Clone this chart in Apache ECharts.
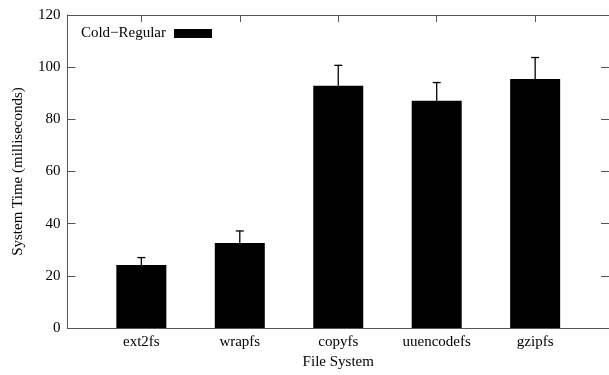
<!DOCTYPE html>
<html><head><meta charset="utf-8">
<script src="https://cdn.jsdelivr.net/npm/echarts@6/dist/echarts.min.js"></script>
<style>html,body{margin:0;padding:0;background:#fff}#c{width:609px;height:375px}</style>
</head><body><div id="c"></div>
<script>
const categories = ["ext2fs", "wrapfs", "copyfs", "uuencodefs", "gzipfs"];
const values = [24.2, 32.6, 92.9, 87.1, 95.5];
const errorTop = [27.0, 37.2, 100.7, 94.1, 103.7];
const yTicks = [0, 20, 40, 60, 80, 100, 120];

const font = "Liberation Serif";
const axisColor = "#555";
const chart = echarts.init(document.getElementById('c'));
const idx = categories.map((c, i) => i);
const xCommon = {
  type: 'value', min: -0.75, max: 4.75,
  axisLine: {show: true, onZero: false, lineStyle: {color: axisColor, width: 1}},
  splitLine: {show: false}
};
chart.setOption({
  animation: false,
  grid: {left: 67.5, top: 15, right: -3, bottom: 41.7},
  legend: {
    data: ['Cold\u2212Regular'], align: 'right', right: 392, top: 21,
    itemWidth: 38, itemHeight: 9, icon: 'rect',
    textStyle: {fontFamily: font, fontSize: 15, color: '#000', padding: [0, 3, 0, 0]}
  },
  xAxis: [
    Object.assign({}, xCommon, {
      position: 'bottom', name: 'File System', nameLocation: 'middle', nameGap: 27,
      nameTextStyle: {fontFamily: font, fontSize: 15, color: '#000'},
      axisTick: {show: true, inside: true, length: 7, customValues: idx, lineStyle: {color: axisColor}},
      axisLabel: {customValues: idx, formatter: v => categories[v], margin: 7,
        fontFamily: font, fontSize: 15, color: '#000'}
    }),
    Object.assign({}, xCommon, {
      position: 'top',
      axisTick: {show: true, inside: true, length: 7, customValues: idx, lineStyle: {color: axisColor}},
      axisLabel: {show: false}
    })
  ],
  yAxis: [
    {
      type: 'value', min: 0, max: 120, interval: 20, position: 'left',
      name: 'System Time (milliseconds)', nameLocation: 'middle', nameGap: 42,
      nameTextStyle: {fontFamily: font, fontSize: 15, color: '#000'},
      axisLine: {show: true, onZero: false, lineStyle: {color: axisColor, width: 1}},
      axisTick: {show: true, inside: true, length: 8, lineStyle: {color: axisColor}},
      axisLabel: {margin: 7, fontFamily: font, fontSize: 15, color: '#000',
        formatter: v => yTicks.includes(v) ? String(v) : ''},
      splitLine: {show: false}
    },
    {
      type: 'value', min: 0, max: 120, interval: 20, position: 'right',
      axisLine: {show: true, onZero: false, lineStyle: {color: axisColor, width: 1}},
      axisTick: {show: true, inside: true, length: 8, lineStyle: {color: axisColor}},
      axisLabel: {show: false},
      splitLine: {show: false}
    }
  ],
  series: [
    {
      name: 'Cold\u2212Regular', type: 'bar', barWidth: 50,
      itemStyle: {color: '#000'},
      data: values.map((v, i) => [i, v])
    },
    {
      type: 'custom', silent: true,
      data: values.map((v, i) => [i, v, errorTop[i]]),
      renderItem: function (params, api) {
        const x = api.value(0);
        const b = api.coord([x, api.value(1)]);
        const t = api.coord([x, api.value(2)]);
        const s = {stroke: '#000', lineWidth: 1.3};
        return {type: 'group', children: [
          {type: 'line', shape: {x1: b[0], y1: b[1], x2: t[0], y2: t[1]}, style: s},
          {type: 'line', shape: {x1: t[0] - 4, y1: t[1], x2: t[0] + 4, y2: t[1]}, style: s}
        ]};
      },
      z: 3
    }
  ]
});
</script></body></html>
